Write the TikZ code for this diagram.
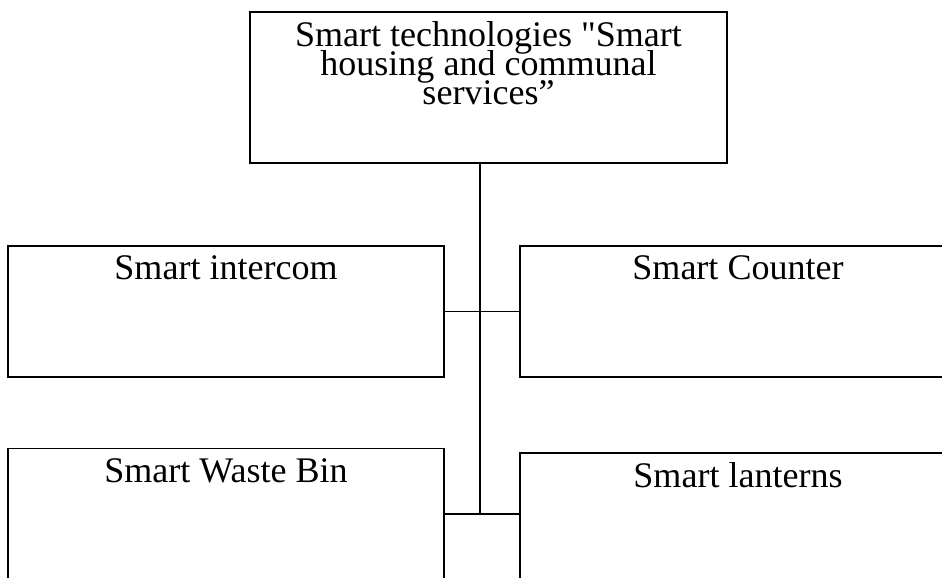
\documentclass[tikz,border=0pt]{standalone}
\usepackage{fontspec}
\setmainfont{Liberation Serif}[Ligatures=TeXOff]
\begin{document}
\begin{tikzpicture}[
    box/.style={draw, line width=1.1pt, minimum width=8.72cm, minimum height=2.62cm},
    caption/.style={anchor=north, inner sep=6pt, align=center, font={\fontsize{20.5}{16.4}\selectfont\lineskiplimit=-20pt\relax}},
    link/.style={line width=1.1pt}
]
    \useasboundingbox (0, 0) rectangle (18.84, 11.54);
    \clip (0, 0) rectangle (18.84, 11.54);
    \node[box, minimum width=9.54cm, minimum height=3.02cm, label={[caption]90:Smart technologies "Smart\\housing and communal\\services”}] (top) at (9.77, 9.79) {};
    \node[box, label={[caption]90:Smart intercom}] (intercom) at (4.52, 5.31) {};
    \node[box, label={[caption]90:Smart Counter}] (counter) at (14.76, 5.31) {};
    \node[box, label={[caption]90:Smart Waste Bin}] (waste) at (4.52, 1.26) {};
    \node[box, label={[caption]90:Smart lanterns}] (lanterns) at (14.76, 1.17) {};
    \coordinate (hub) at (9.6, 1.26);
    \draw[link] (top.south -| hub) -- (hub);
    \draw[link] (intercom.east) -- (counter.west);
    \draw[link] (waste.east) -- (waste.east -| lanterns.west);
\end{tikzpicture}
\end{document}
